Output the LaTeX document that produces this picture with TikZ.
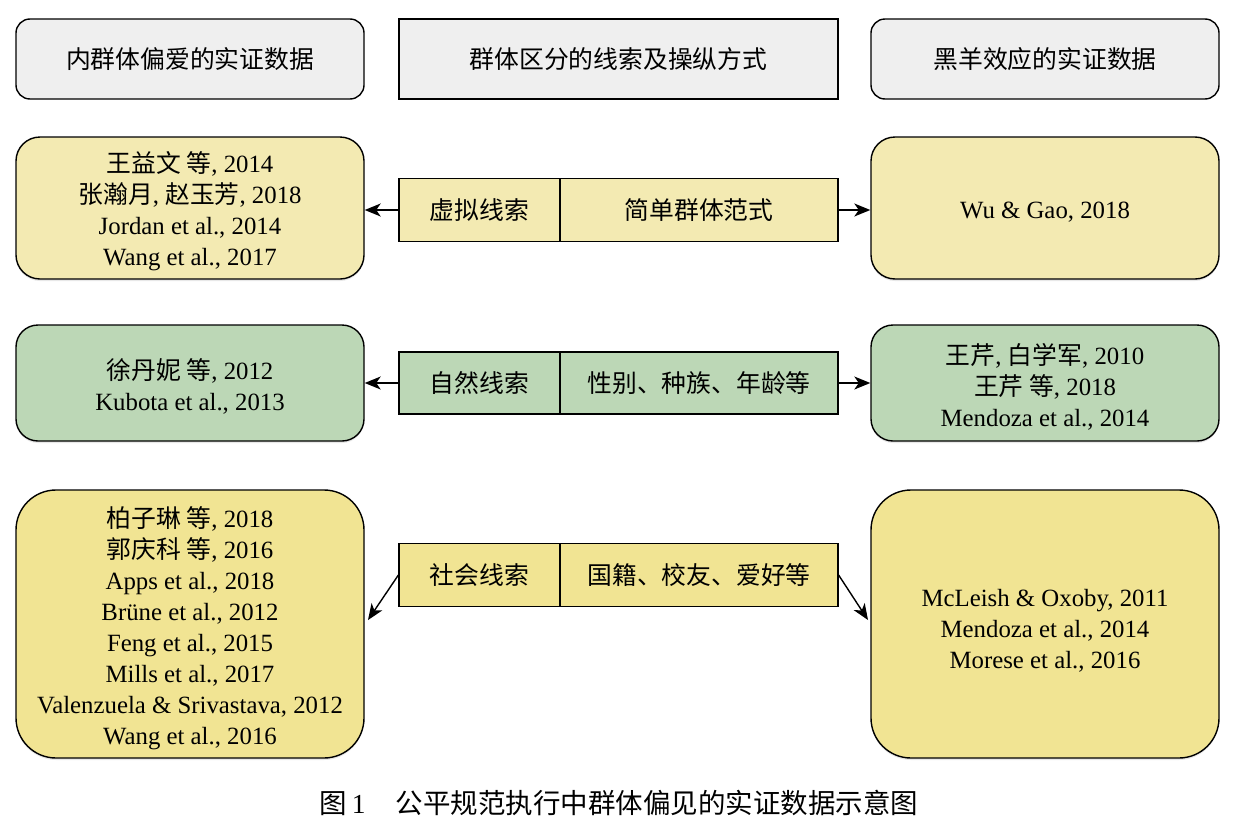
\documentclass[tikz,border=0pt]{standalone}
\usepackage{fontspec}
\setmainfont{Liberation Serif}
\newfontfamily\cjk{Noto Sans CJK SC}
\usetikzlibrary{arrows.meta,shadows}

\definecolor{hdrgray}{HTML}{EFEFEF}
\definecolor{paleyel}{HTML}{F3EAB2}
\definecolor{sagegrn}{HTML}{BCD7B6}
\definecolor{deepyel}{HTML}{F1E493}

% strut that lowers a multi-line block slightly inside its box
\newcommand{\toppad}[1]{\rule{0pt}{#1pt}}

\tikzset{
  txt/.style={font=\fontsize{24.8}{31}\selectfont, align=center, text=black},
  hdrbox/.style={txt, draw, line width=1.4pt, fill=hdrgray,
    minimum width=348pt, minimum height=80pt},
  evbox/.style={txt, draw, line width=1.4pt, minimum width=348pt, inner sep=0pt,
    drop shadow={shadow xshift=0pt, shadow yshift=-2pt, opacity=0.18}},
  cuebox/.style={txt, draw, line width=1.2pt, minimum height=63pt, inner sep=0pt},
  link/.style={line width=1.4pt, -{Stealth[length=16pt, width=13pt, inset=4.5pt]}}
}

\begin{document}
\begin{tikzpicture}[x=1pt, y=-1pt]
\useasboundingbox (0,0) rectangle (1242,830);

% column headers
\node[hdrbox, rounded corners=14pt] (hl) at (190,59) {\cjk 内群体偏爱的实证数据};
\node[hdrbox, minimum width=439pt, line width=1.2pt] (hm) at (618.5,59) {\cjk 群体区分的线索及操纵方式};
\node[hdrbox, rounded corners=14pt] (hr) at (1045,59) {\cjk 黑羊效应的实证数据};

% row 1: virtual cues
\node[evbox, fill=paleyel, rounded corners=24pt, minimum height=142pt] (l1) at (190,208)
  {\toppad{28}{\cjk 王益文 等}, 2014\\ {\cjk 张瀚月}, {\cjk 赵玉芳}, 2018\\ Jordan et al., 2014\\ Wang et al., 2017};
\node[evbox, fill=paleyel, rounded corners=24pt, minimum height=142pt] (r1) at (1045,208)
  {\toppad{25}Wu \& Gao, 2018};
\node[cuebox, fill=paleyel, minimum width=161pt] (c1) at (479.5,210) {\cjk 虚拟线索};
\node[cuebox, fill=paleyel, minimum width=278pt] (d1) at (699,210) {\cjk 简单群体范式};
\draw[link] (c1.west) -- (l1.east |- c1.west);
\draw[link] (d1.east) -- (r1.west |- d1.east);

% row 2: natural cues
\node[evbox, fill=sagegrn, rounded corners=22pt, minimum height=116pt] (l2) at (190,383)
  {\toppad{28}{\cjk 徐丹妮 等}, 2012\\ Kubota et al., 2013};
\node[evbox, fill=sagegrn, rounded corners=22pt, minimum height=116pt] (r2) at (1045,383)
  {\toppad{28}{\cjk 王芹}, {\cjk 白学军}, 2010\\ {\cjk 王芹 等}, 2018\\ Mendoza et al., 2014};
\node[cuebox, fill=sagegrn, minimum width=161pt, minimum height=62pt] (c2) at (479.5,383) {\cjk 自然线索};
\node[cuebox, fill=sagegrn, minimum width=278pt, minimum height=62pt] (d2) at (699,383) {\cjk 性别、种族、年龄等};
\draw[link] (c2.west) -- (l2.east |- c2.west);
\draw[link] (d2.east) -- (r2.west |- d2.east);

% row 3: social cues
\node[evbox, fill=deepyel, rounded corners=40pt, minimum height=268pt] (l3) at (190,624)
  {\toppad{30}{\cjk 柏子琳 等}, 2018\\ {\cjk 郭庆科 等}, 2016\\ Apps et al., 2018\\ Br\"une et al., 2012\\
   Feng et al., 2015\\ Mills et al., 2017\\ Valenzuela \& Srivastava, 2012\\ Wang et al., 2016};
\node[evbox, fill=deepyel, rounded corners=40pt, minimum height=268pt] (r3) at (1045,624)
  {\toppad{31}McLeish \& Oxoby, 2011\\ Mendoza et al., 2014\\ Morese et al., 2016};
\node[cuebox, fill=deepyel, minimum width=161pt] (c3) at (479.5,575) {\cjk 社会线索};
\node[cuebox, fill=deepyel, minimum width=278pt] (d3) at (699,575) {\cjk 国籍、校友、爱好等};
\coordinate (e3l) at (368,620);
\coordinate (e3r) at (868,620);
\draw[link] (c3.west) -- (e3l);
\draw[link] (d3.east) -- (e3r);

% caption
\node[font=\fontsize{27.5}{30}\selectfont] (cap) at (619,803)
  {{\cjk 图}\,1\hspace{30pt}{\cjk 公平规范执行中群体偏见的实证数据示意图}};
\end{tikzpicture}
\end{document}
